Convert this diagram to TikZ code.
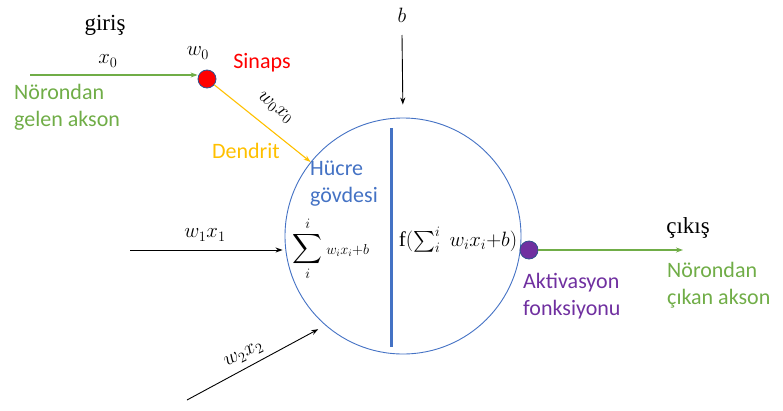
\documentclass[tikz,border=0pt]{standalone}
\usepackage{fontspec}
\setmainfont{Liberation Serif}
\setsansfont{Carlito}
\usepackage{amsmath}
\usetikzlibrary{arrows.meta}
\definecolor{akson}{RGB}{112,173,71}
\definecolor{dendrit}{RGB}{255,192,0}
\definecolor{hucre}{RGB}{68,114,196}
\definecolor{aktiv}{RGB}{112,48,160}
\definecolor{kenar}{RGB}{47,82,143}
\tikzset{
  dot/.style={circle, draw=kenar, line width=0.8pt, minimum size=18pt, inner sep=0pt},
  etiket/.style={font=\sffamily\fontsize{22}{27}\selectfont, align=left, inner sep=0pt},
  denk/.style={font=\fontsize{21}{24}\selectfont, inner sep=0pt},
  baslik/.style={font=\fontsize{23}{27}\selectfont, inner sep=0pt}
}

\begin{document}
\begin{tikzpicture}[x=1pt, y=-1pt, >={Stealth[length=7pt,width=5pt]}]
  \useasboundingbox (0,0) rectangle (783,410);

  \node[circle, draw=hucre, line width=0.9pt, minimum size=236pt, inner sep=0pt] (govde) at (403,236) {};
  \draw[hucre, line width=3pt] (391,128) -- (391,347);
  \node[dot, fill=red] (sinaps) at (207,79) {};
  \node[dot, fill=aktiv] (cikis) at (529,250) {};

  \coordinate (giris0) at (30,75);
  \coordinate (girdi1) at (130,250);
  \coordinate (girdi2) at (187,400);
  \coordinate (bias) at (402,35);
  \coordinate (son) at (683,250);

  \draw[->, akson, line width=1.1pt] (giris0) -- (giris0 -| sinaps.west);
  \draw[->, dendrit, line width=1.1pt] (sinaps) -- (govde);
  \draw[->, line width=0.9pt] (bias) -- (govde.north) [shorten >=13pt];
  \draw[->, line width=0.9pt, shorten >=2pt] (girdi1) -- (girdi1 -| govde.west);
  \draw[->, line width=0.9pt, shorten >=8pt] (girdi2) -- (govde.229);
  \draw[->, akson, line width=1.1pt] (cikis) -- (son);

  \node[baslik] (giris) at (105,25) {giriş};
  \node[denk] (x0) at (108,61) {$x_0$};
  \node[denk] (w0) at (198,53) {$w_0$};
  \node[denk] (b) at (402,15) {$b$};
  \node[etiket, red] (sinapslbl) at (262,63) {Sinaps};
  \node[etiket, akson, anchor=west] (gelen) at (14,107) {Nörondan\\gelen akson};
  \node[denk, rotate=-40] (w0x0) at (275,108) {$w_0x_0$};
  \node[etiket, dendrit] (dendritlbl) at (246,151) {Dendrit};
  \node[etiket, hucre, anchor=west] (hucrelbl) at (310,184) {Hücre\\gövdesi};
  \node[denk] (w1x1) at (205,235) {$w_1x_1$};
  \node[denk, rotate=27] (w2x2) at (244,355) {$w_2x_2$};
  \node[denk] (toplam) at (331,249) {$\displaystyle\sum_{i}^{i}$\,{\fontsize{14}{16}\selectfont$w_ix_i{+}b$}};
  \node[denk] (fonk) at (458,240) {$\mathrm{f}(\sum_i^i\; w_ix_i{+}b)$};
  \node[etiket, aktiv, anchor=west] (aktivlbl) at (523,296) {Aktivasyon\\fonksiyonu};
  \node[baslik] (cikislbl) at (688,228) {çıkış};
  \node[etiket, akson, anchor=west] (cikan) at (667,285) {Nörondan\\çıkan akson};
\end{tikzpicture}
\end{document}
